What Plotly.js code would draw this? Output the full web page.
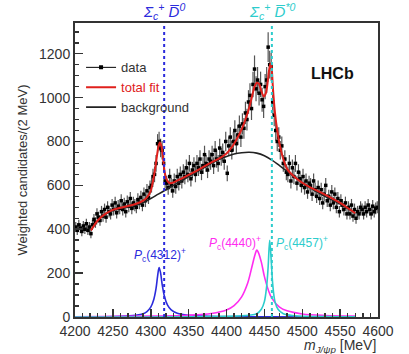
<!DOCTYPE html>
<html><head><meta charset="utf-8">
<script src="https://cdn.plot.ly/plotly-3.0.1.min.js"></script>
<style>html,body{margin:0;padding:0;background:#fff}#chart{width:409px;height:354px}</style>
</head><body><div id="chart"></div>
<script>
// ---- data (2 MeV bins) ----
const binStart = 4201, binWidth = 2;
const dataY = [
410,395,420,405,390,415,400,425,395,410,
380,420,445,430,470,455,440,480,460,490,
455,500,480,470,510,490,520,475,505,495,
530,490,515,480,525,505,540,495,520,510,
500,535,520,545,510,560,530,575,545,590,
600,640,650,700,790,800,770,760,700,620,
610,590,640,600,575,620,595,640,610,650,
620,660,640,680,650,700,630,670,690,650,
700,680,720,660,690,740,700,670,720,710,
740,690,760,720,700,770,730,750,710,800,
655,780,820,760,800,850,790,830,870,820,
880,860,930,900,980,1010,950,1060,1130,1040,
1080,1020,1060,990,960,1050,1080,1230,1150,1140,
980,920,850,800,820,760,780,700,720,660,
650,700,620,680,640,700,610,660,630,600,
640,590,620,570,610,600,560,620,580,550,
590,540,580,520,560,600,530,550,510,570,
520,560,500,540,480,530,510,490,520,470,
500,470,510,460,490,450,480,470,500,490,
470,500,480,510,490,470,505,480,495,500];
const dataX = dataY.map((_, i) => binStart + i * binWidth);

const fitX = [4221,4230,4240,4250,4260,4270,4280,4290,4295,4300,4303,4306,4308,4310,4312,4314,4316,4318,4320,4323,4326,4330,4340,4350,4360,4370,4380,4390,4400,4405,4410,4415,4420,4425,4430,4434,4437,4440,4443,4446,4449,4452,4454,4456,4458,4459,4460,4461,4462,4464,4467,4470,4475,4480,4490,4500,4510,4520,4530,4540,4550,4560,4570];
const fitY = [395,440,470,488,498,506,515,530,545,575,620,680,730,775,795,780,730,670,635,615,610,613,630,648,665,685,705,722,745,765,790,820,855,900,955,1010,1050,1068,1062,1030,1005,1020,1060,1120,1155,1150,1120,1060,1010,930,850,790,720,675,638,612,592,575,558,540,520,497,473];

const bkgX = [4221,4230,4240,4250,4260,4270,4280,4290,4300,4310,4320,4330,4340,4350,4360,4370,4380,4390,4400,4410,4420,4430,4440,4450,4460,4470,4480,4490,4500,4510,4520,4530,4540,4550,4560,4570];
const bkgY = [395,440,468,485,495,502,510,522,540,560,580,600,620,640,660,680,700,718,732,743,749,751,747,735,715,690,664,638,612,590,570,550,532,515,495,473];

const pc4312X = [4200,4260,4280,4290,4295,4300,4304,4307,4309,4311,4313,4315,4318,4322,4327,4335,4350,4380,4450,4570];
const pc4312Y = [0,3,8,15,25,45,80,130,185,225,200,150,95,55,32,17,8,3,1,0];
const pc4440X = [4200,4300,4350,4380,4400,4410,4420,4428,4434,4438,4440,4442,4446,4450,4455,4460,4470,4480,4500,4530,4570];
const pc4440Y = [1,4,8,16,32,52,92,155,235,288,305,295,250,185,125,85,45,28,14,7,4];
const pc4457X = [4200,4400,4430,4440,4446,4450,4453,4455,4457,4459,4461,4464,4468,4475,4490,4530,4570];
const pc4457Y = [0,3,8,15,35,70,140,230,350,260,150,70,35,15,6,2,1];

const thresholds = [4317.7, 4459.9];
const thresholdLabels = ['<i>Σ<sub>c</sub><sup>+</sup> D\u0305<sup>0</sup></i>', '<i>Σ<sub>c</sub><sup>+</sup> D\u0305<sup>*0</sup></i>'];
const pcLabels = ['<i>P</i><sub>c</sub>(4312)<sup>+</sup>', '<i>P</i><sub>c</sub>(4440)<sup>+</sup>', '<i>P</i><sub>c</sub>(4457)<sup>+</sup>'];
const pcLabelPos = [[4312, 282], [4411, 336], [4500, 336]];

const BLUE = '#2b2bdc', MAG = '#ff2cf0', CYAN = '#2ccccc', RED = '#e0201c', DARK = '#333333';

const traces = [
  {x: pc4312X, y: pc4312Y, mode: 'lines', line: {color: BLUE, width: 1.6, shape: 'spline'}, showlegend: false, hoverinfo: 'skip'},
  {x: pc4440X, y: pc4440Y, mode: 'lines', line: {color: MAG, width: 1.6, shape: 'spline'}, showlegend: false, hoverinfo: 'skip'},
  {x: pc4457X, y: pc4457Y, mode: 'lines', line: {color: CYAN, width: 1.6, shape: 'spline'}, showlegend: false, hoverinfo: 'skip'},
  {x: dataX, y: dataY, mode: 'markers', marker: {symbol: 'square', size: 3.5, color: '#000'},
   error_y: {type: 'percent', value: 5.5, color: '#555', thickness: 1.2, width: 0}, showlegend: false},
  {x: [null], y: [null], mode: 'lines+markers', name: 'data', line: {color: '#000', width: 1}, marker: {symbol: 'square', size: 4, color: '#000'}, legendrank: 1},
  {x: bkgX, y: bkgY, mode: 'lines', name: 'background', line: {color: '#222', width: 1.6, shape: 'spline'}, legendrank: 3},
  {x: fitX, y: fitY, mode: 'lines', name: '<span style="color:#e0201c">total fit</span>', line: {color: RED, width: 2, shape: 'spline', smoothing: 0.6}, legendrank: 2}
];

const shapes = thresholds.map((t, i) => ({type: 'line', xref: 'x', yref: 'paper', x0: t, x1: t, y0: 0, y1: 1,
  line: {color: i === 0 ? BLUE : CYAN, width: 2, dash: 'dot'}}));

const annotations = [
  ...thresholds.map((t, i) => ({x: t, xref: 'x', y: 1, yref: 'paper', yanchor: 'bottom', yshift: -1, showarrow: false,
     text: thresholdLabels[i], font: {family: 'Liberation Sans, Arial', size: 15, color: i === 0 ? BLUE : CYAN}})),
  ...pcLabels.map((t, i) => ({x: pcLabelPos[i][0], y: pcLabelPos[i][1], xref: 'x', yref: 'y', showarrow: false,
     text: t, font: {family: 'Liberation Sans, Arial', size: 12, color: [BLUE, MAG, CYAN][i]}})),
  {x: 4540, y: 1110, xref: 'x', yref: 'y', showarrow: false, text: '<b>LHCb</b>', font: {family: 'Liberation Sans, Arial', size: 16, color: '#111'}},
  {x: 1, xref: 'paper', xanchor: 'right', y: 0, yref: 'paper', yanchor: 'top', yshift: -18, showarrow: false,
   text: '<i>m</i><sub><i>J/ψp</i></sub> [MeV]', font: {family: 'Liberation Sans, Arial', size: 14, color: DARK}}
];

const axisCommon = {showline: true, linecolor: DARK, linewidth: 2, mirror: true, ticks: 'inside', tickcolor: DARK,
  tickwidth: 1.5, showgrid: false, zeroline: false, tickfont: {family: 'Liberation Sans, Arial', size: 14, color: DARK}};

const layout = {
  width: 409, height: 354,
  margin: {l: 75, r: 31, t: 23, b: 37},
  paper_bgcolor: '#fff', plot_bgcolor: '#fff',
  showlegend: true,
  legend: {x: 0.02, y: 0.9, xanchor: 'left', yanchor: 'top', bgcolor: 'rgba(0,0,0,0)', traceorder: 'normal',
    font: {family: 'Liberation Sans, Arial', size: 13, color: DARK}, itemwidth: 30, tracegroupgap: 0},
  xaxis: Object.assign({}, axisCommon, {range: [4200, 4600], dtick: 50, tick0: 4200, ticklen: 8,
    minor: {dtick: 10, ticklen: 4, ticks: 'inside', tickcolor: DARK}}),
  yaxis: Object.assign({}, axisCommon, {range: [0, 1340], dtick: 200, ticklen: 8,
    minor: {dtick: 50, ticklen: 4, ticks: 'inside', tickcolor: DARK},
    title: {text: 'Weighted candidates/(2 MeV)', font: {family: 'Liberation Sans, Arial', size: 13, color: DARK}, standoff: 8}}),
  shapes: shapes,
  annotations: annotations
};

Plotly.newPlot('chart', traces, layout, {displayModeBar: false, staticPlot: true});
</script></body></html>
